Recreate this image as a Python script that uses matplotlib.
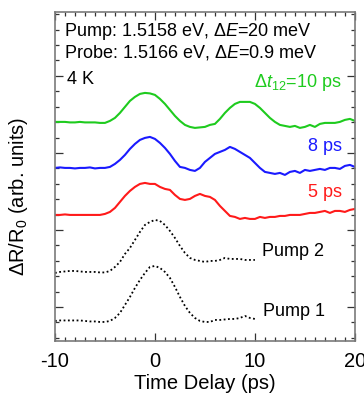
import matplotlib
matplotlib.use("Agg")
import matplotlib.pyplot as plt
from matplotlib.ticker import MultipleLocator

plt.rcParams["font.family"] = ["Liberation Sans", "DejaVu Sans"]
plt.rcParams["mathtext.fontset"] = "custom"
plt.rcParams["mathtext.rm"] = "Liberation Sans"
plt.rcParams["mathtext.it"] = "Liberation Sans:italic"
plt.rcParams["axes.unicode_minus"] = False

# tempo (ps), passo de 0.5
t = [-10 + 0.5 * i for i in range(61)]
t_pump = t[:41]  # -10 .. 10

# sinais (arb. units) relativos a linha de base de cada curva
sig_10ps = [0, 0, 0, -0.5, -0.5, 0, -0.5, -0.5, -0.5, -1, -1, 1, 4, 9, 15, 21, 25, 28, 29, 28.5,
            27, 23, 18, 12, 6, 1, -3, -5, -6, -5.5, -5, -3, -2, 3, 9, 14, 18, 20, 20, 20,
            18, 14, 9, 4, 0, -3, -4, -5, -4, -6, -5, -3, -5, -2, -1, -1, -1, 0, 2, 3, 1]
sig_8ps = [0, 0.5, 0, 0, -0.5, 0, 0, 0.5, -0.5, 0, 0, 1, 4, 8, 13, 19, 24, 28, 30, 31,
           29, 25, 20, 14, 7, 1, 0, -2, -3, 0, 6, 10, 14, 16, 18, 21, 19, 16, 13, 10,
           5, 0, -4, -5, -6, -5, -7, -4, -3, -5, -2, -3, -2, -1, -2, 0, 0, -1, 2, 3, 1]
sig_5ps = [0, 0, 0.5, 0, 0, 0, 0, 0, 0, 0, 1, 3, 7, 13, 19, 24, 28, 31, 32, 31,
           31, 28, 26, 25, 20, 16, 15, 16, 19, 21, 19, 18, 15, 9, 4, -1, -2, -4, -3, -4,
           -4, -2, -3, -2, -2, -1, -1, 0, 0, 0, 1, 2, 2, 3, 4, 2, 4, 4, 3, 5, 6]
sig_pump2 = [0, 1, 1.5, 2, 2, 1.5, 1, 1, 1, 0.5, 0.5, 2, 6, 11, 19, 25, 33, 41, 48, 51,
             53, 52, 48, 42, 35, 27, 20, 15, 13, 12, 11, 12, 12, 13, 15, 14, 14, 14, 13, 13, 13]
sig_pump1 = [0, 0.5, 0.5, 0.5, 0.5, 0.5, 0, -0.5, -0.5, -1, -1, 0, 3, 8, 16, 24, 33, 41, 48, 54,
             55, 53, 49, 43, 34, 24, 15, 8, 3, 0, -1, -1, 1, 1, 1.5, 2, 2, 3, 5, 3, 2]

# deslocamento vertical de cada curva
offsets = {"10ps": 185, "8ps": 139, "5ps": 92, "pump2": 34, "pump1": -14}

VERDE = "#1ecb1e"
AZUL = "#1a1aff"
VERMELHO = "#ff1a1a"

fig = plt.figure(figsize=(3.64, 3.96), dpi=100)
ax = fig.add_axes([0.151, 0.139, 0.824, 0.831])

ax.plot(t, [v + offsets["10ps"] for v in sig_10ps], color=VERDE, lw=1.5)
ax.plot(t, [v + offsets["8ps"] for v in sig_8ps], color=AZUL, lw=1.5)
ax.plot(t, [v + offsets["5ps"] for v in sig_5ps], color=VERMELHO, lw=1.5)
ax.plot(t_pump, [v + offsets["pump2"] for v in sig_pump2], color="black", lw=1.3,
        linestyle=(0, (1, 1.4)))
ax.plot(t_pump, [v + offsets["pump1"] for v in sig_pump1], color="black", lw=1.3,
        linestyle=(0, (1, 1.4)))

ax.set_xlim(-10, 20)
ax.set_ylim(-34, 295)
ax.xaxis.set_major_locator(MultipleLocator(10))
ax.xaxis.set_minor_locator(MultipleLocator(1))
ax.yaxis.set_major_locator(MultipleLocator(77))
ax.yaxis.set_minor_locator(MultipleLocator(15.4))
ax.tick_params(which="both", direction="in", top=True, right=True, color="#333333", width=0.9)
ax.tick_params(which="major", length=6)
ax.tick_params(which="minor", length=3)
ax.tick_params(axis="x", labelsize=14.5, pad=8)
ax.set_yticklabels([])
for s in ax.spines.values():
    s.set_color("#7a7a7a")
    s.set_linewidth(1.2)

ax.set_xlabel("Time Delay (ps)", fontsize=14.5, labelpad=2)
ax.set_ylabel("ΔR/R$_0$ (arb. units)", fontsize=14.5)
ax.yaxis.set_label_coords(-0.083, 0.44)

ax.text(-9.1, 275, "Pump: 1.5158 eV, Δ$E$=20 meV", fontsize=13, va="center")
ax.text(-9.1, 254, "Probe: 1.5166 eV, Δ$E$=0.9 meV", fontsize=13, va="center")
ax.text(-8.8, 227, "4 K", fontsize=13, va="center")
ax.text(18.7, 224, "Δ$t_{12}$=10 ps", fontsize=13, va="center", ha="right", color=VERDE)
ax.text(18.7, 160, "8 ps", fontsize=13, va="center", ha="right", color=AZUL)
ax.text(18.7, 114, "5 ps", fontsize=13, va="center", ha="right", color=VERMELHO)
ax.text(10.7, 55, "Pump 2", fontsize=13, va="center")
ax.text(10.8, -5, "Pump 1", fontsize=13, va="center")

fig.savefig("out.png", dpi=100, facecolor="white")
